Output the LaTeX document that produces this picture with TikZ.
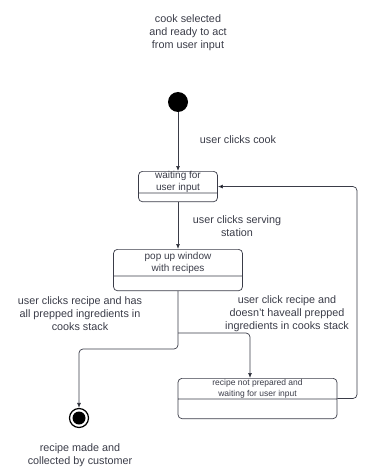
\documentclass[tikz,border=0pt]{standalone}
\usepackage{fontspec}
\setmainfont{Liberation Sans}
\usepackage{tikz}
\usetikzlibrary{arrows.meta}
\usetikzlibrary{positioning}
\usetikzlibrary{shapes.multipart}
\definecolor{inkgrey}{RGB}{58,60,72}
\tikzset{>={Latex[length=5pt,width=4pt]}}
\tikzstyle{state} = [rectangle split, rectangle split parts=2, draw=inkgrey, line width=0.7pt, rounded corners=4pt, align=center, inner xsep=2pt, text=inkgrey, anchor=north]
\tikzstyle{lbl} = [align=center, text=inkgrey, font=\fontsize{10.8}{13}\selectfont, inner sep=0pt]
\tikzstyle{flow} = [->, draw=inkgrey, line width=0.7pt, rounded corners=4pt]

\begin{document}
\begin{tikzpicture}[x=1pt, y=-1pt]
\useasboundingbox (0,0) rectangle (367,473);
\node [lbl] (note) at (188,33) {cook selected\\and ready to act\\from user input};
\node [circle, fill=black, minimum size=20pt, inner sep=0pt] (start) at (178,102) {};
\node [state, minimum width=79pt, inner ysep=0pt, rectangle split empty part height=8pt, font=\fontsize{10}{11.7}\selectfont] (wait) at (178,171) {waiting for\\user input \nodepart{two}};
\node [state, minimum width=129pt, inner ysep=2.5pt, rectangle split empty part height=9pt, font=\fontsize{10}{11.7}\selectfont] (pop) at (178,249) {pop up window\\with recipes \nodepart{two}};
\node [state, minimum width=159pt, inner ysep=0.75pt, rectangle split empty part height=17.5pt, font=\fontsize{8.5}{10.5}\selectfont] (rnp) at (257.5,378) {recipe not prepared and\\waiting for user input \nodepart{two}};
\node [circle, draw=black, line width=1.2pt, minimum size=19pt, inner sep=0pt] (final) at (79,418) {};
\node [circle, fill=black, minimum size=13pt, inner sep=0pt] (finaldot) at (final) {};
\node [lbl] (cooklbl) at (238,140) {user clicks cook};
\node [lbl] (servelbl) at (237,226) {user clicks serving\\station};
\node [lbl] (haslbl) at (80,314) {user clicks recipe and has\\all prepped ingredients in\\cooks stack};
\node [lbl] (lacklbl) at (287,314) {user click recipe and\\doesn't haveall prepped\\ingredients in cooks stack};
\node [lbl] (endlbl) at (80,455) {recipe made and\\collected by customer};
\coordinate (fork) at (178,333);
\coordinate (split) at (178,349);
\coordinate (back) at (357,300);
\draw [flow] (start) -- (wait);
\draw [flow] (wait) -- (pop);
\draw [flow] (pop.south) -- (split) -| (final);
\draw [flow] (fork) -| ([xshift=-7.5pt]rnp.north);
\draw [flow] (rnp.east) -| (back) |- (wait.east);
\end{tikzpicture}
\end{document}
